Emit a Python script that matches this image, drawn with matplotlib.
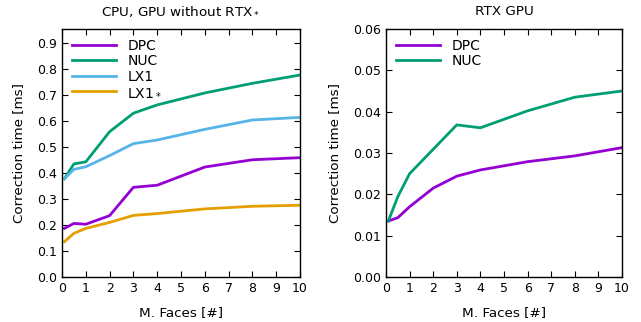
import matplotlib
matplotlib.use("Agg")
import matplotlib.pyplot as plt
from matplotlib.ticker import MultipleLocator, FormatStrFormatter

faces = [0.1, 0.5, 1, 2, 3, 4, 6, 8, 10]
cpu_dpc = [0.187, 0.206, 0.203, 0.236, 0.345, 0.353, 0.423, 0.451, 0.459]
cpu_nuc = [0.378, 0.435, 0.443, 0.559, 0.630, 0.662, 0.708, 0.745, 0.777]
cpu_lx1 = [0.378, 0.414, 0.424, 0.467, 0.513, 0.527, 0.568, 0.604, 0.614]
cpu_lx1s = [0.136, 0.168, 0.187, 0.210, 0.237, 0.244, 0.262, 0.272, 0.276]

rtx_dpc = [0.01355, 0.01435, 0.0170, 0.0215, 0.0244, 0.0259, 0.0279, 0.0293, 0.0313]
rtx_nuc = [0.01355, 0.01943, 0.0250, 0.0309, 0.0368, 0.0361, 0.0402, 0.0435, 0.0450]
rtx_faces = [0.1, 0.5, 1, 2, 3, 4, 6, 8, 10]

C_DPC = "#9400d3"
C_NUC = "#009e73"
C_LX1 = "#56b4e9"
C_LX1S = "#e69f00"

fig = plt.figure(figsize=(6.41, 3.22), dpi=100)
ax1 = fig.add_axes([62/641, 45/322, 238/641, 248/322])
ax2 = fig.add_axes([386/641, 45/322, 236/641, 248/322])

lw = 2.0
ax1.plot(faces, cpu_dpc, color=C_DPC, lw=lw, label="DPC")
ax1.plot(faces, cpu_nuc, color=C_NUC, lw=lw, label="NUC")
ax1.plot(faces, cpu_lx1, color=C_LX1, lw=lw, label="LX1")
ax1.plot(faces, cpu_lx1s, color=C_LX1S, lw=lw, label="LX1$_*$")
ax1.set_xlim(0, 10)
ax1.set_ylim(0, 0.954)
ax1.yaxis.set_major_locator(MultipleLocator(0.1))
ax1.yaxis.set_major_formatter(FormatStrFormatter("%.1f"))
ax1.set_title("CPU, GPU without RTX$_*$", fontsize=9.7, pad=10)

ax2.plot(rtx_faces, rtx_dpc, color=C_DPC, lw=lw, label="DPC")
ax2.plot(rtx_faces, rtx_nuc, color=C_NUC, lw=lw, label="NUC")
ax2.set_xlim(0, 10)
ax2.set_ylim(0, 0.06)
ax2.yaxis.set_major_locator(MultipleLocator(0.01))
ax2.yaxis.set_major_formatter(FormatStrFormatter("%.2f"))
ax2.set_title("RTX GPU", fontsize=9.7, pad=10)

for ax in (ax1, ax2):
    ax.xaxis.set_major_locator(MultipleLocator(1))
    ax.tick_params(which="both", direction="in", top=True, right=True, labelsize=9, length=4)
    ax.set_xlabel("M. Faces [#]", fontsize=9.7, labelpad=8)
    ax.set_ylabel("Correction time [ms]", fontsize=9.7, labelpad=9)
    for s in ax.spines.values():
        s.set_linewidth(1.0)
    ax.legend(loc="upper left", frameon=False, fontsize=10, handlelength=3.2,
              labelspacing=0.1, borderaxespad=0.3, handletextpad=0.8)

fig.savefig("out.png", dpi=100)
